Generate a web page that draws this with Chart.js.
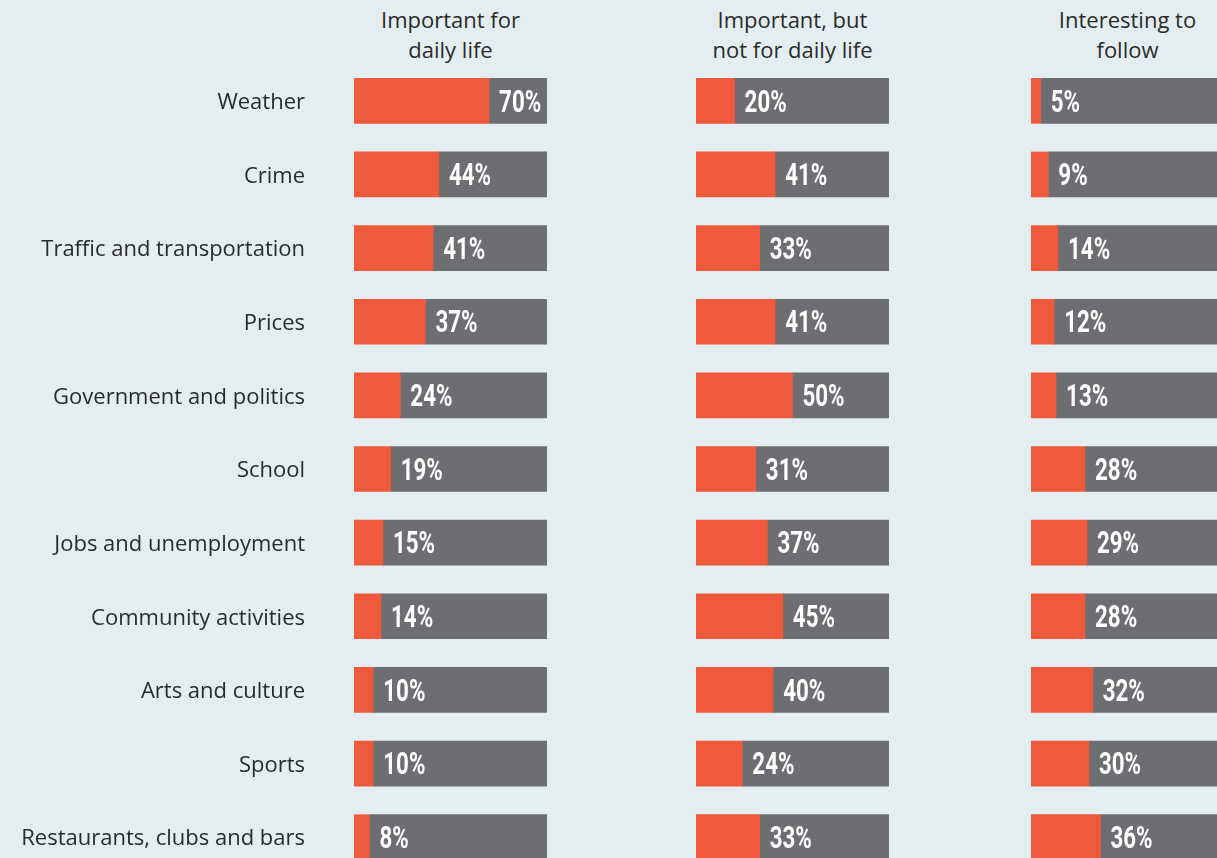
<!DOCTYPE html>
<html lang="en">

<head>
   <meta charset="UTF-8">
   <title>News topics</title>
   <script src="https://cdn.jsdelivr.net/npm/chart.js@4/dist/chart.umd.min.js"></script>
   <style>
      html, body { margin: 0; padding: 0; }
      body {
         width: 1217px;
         height: 858px;
         overflow: hidden;
         background: #e4eef0;
         font-family: "Open Sans", sans-serif;
         position: relative;
      }
      .head {
         position: absolute;
         top: 4px;
         left: 0;
         width: 193px;
         text-align: center;
         font-size: 22px;
         line-height: 30px;
         color: #2b2b2b;
         white-space: nowrap;
      }
      canvas { position: absolute; top: 64px; }
   </style>
</head>

<body>
   <div class="head" id="h1" style="left:354px"></div>
   <div class="head" id="h2" style="left:696px"></div>
   <div class="head" id="h3" style="left:1031px"></div>
   <canvas id="c1" width="547" height="810" style="left:0"></canvas>
   <canvas id="c2" width="193" height="810" style="left:696px"></canvas>
   <canvas id="c3" width="193" height="810" style="left:1031px"></canvas>

   <script>
      const topics = ['Weather', 'Crime', 'Traffic and transportation', 'Prices', 'Government and politics',
         'School', 'Jobs and unemployment', 'Community activities', 'Arts and culture', 'Sports',
         'Restaurants, clubs and bars'];
      const headers = [['Important for', 'daily life'], ['Important, but', 'not for daily life'], ['Interesting to', 'follow']];
      const dailyLife = [70, 44, 41, 37, 24, 19, 15, 14, 10, 10, 8];
      const notDaily = [20, 41, 33, 41, 50, 31, 37, 45, 40, 24, 33];
      const interesting = [5, 9, 14, 12, 13, 28, 29, 28, 32, 30, 36];

      const orange = '#ef5a3c';
      const grey = '#6d6e71';

      headers.forEach((h, i) => {
         document.getElementById('h' + (i + 1)).innerHTML = h.join('<br>');
      });

      // white condensed percentage next to the orange part
      const pctLabels = {
         id: 'pctLabels',
         afterDatasetsDraw(chart) {
            const ctx = chart.ctx;
            const meta = chart.getDatasetMeta(0);
            const vals = chart.data.datasets[0].data;
            ctx.save();
            ctx.fillStyle = '#ffffff';
            ctx.font = 'bold 31px Roboto, sans-serif';
            ctx.textBaseline = 'middle';
            ctx.textAlign = 'left';
            meta.data.forEach((bar, i) => {
               ctx.save();
               ctx.translate(bar.x + 10, bar.y + 3);
               ctx.scale(0.72, 1);
               ctx.fillText(vals[i] + '%', 0, 0);
               ctx.restore();
            });
            ctx.restore();
         }
      };

      function makeChart(id, values, showLabels) {
         const ctx = document.getElementById(id).getContext('2d');
         const yScale = {
            stacked: true,
            display: showLabels,
            grid: { display: false, drawTicks: false },
            border: { display: false },
            ticks: {
               padding: 49,
               labelOffset: 2,
               color: '#2b2b2b',
               font: { family: '"Open Sans", sans-serif', size: 22 }
            }
         };
         if (showLabels) {
            yScale.afterFit = function (scale) {
               scale.width = 354;
               scale.paddingTop = 0;
               scale.paddingBottom = 0;
            };
         }
         return new Chart(ctx, {
            type: 'bar',
            data: {
               labels: topics,
               datasets: [
                  { data: values, backgroundColor: orange },
                  { data: values.map(v => 100 - v), backgroundColor: grey }
               ]
            },
            options: {
               indexAxis: 'y',
               responsive: false,
               animation: false,
               layout: { padding: 0 },
               datasets: { bar: { barThickness: 45, borderWidth: 0 } },
               plugins: { legend: { display: false }, tooltip: { enabled: false } },
               scales: {
                  x: { stacked: true, min: 0, max: 100, display: false },
                  y: yScale
               }
            },
            plugins: [pctLabels]
         });
      }

      makeChart('c1', dailyLife, true);
      makeChart('c2', notDaily, false);
      makeChart('c3', interesting, false);
   </script>
</body>

</html>
